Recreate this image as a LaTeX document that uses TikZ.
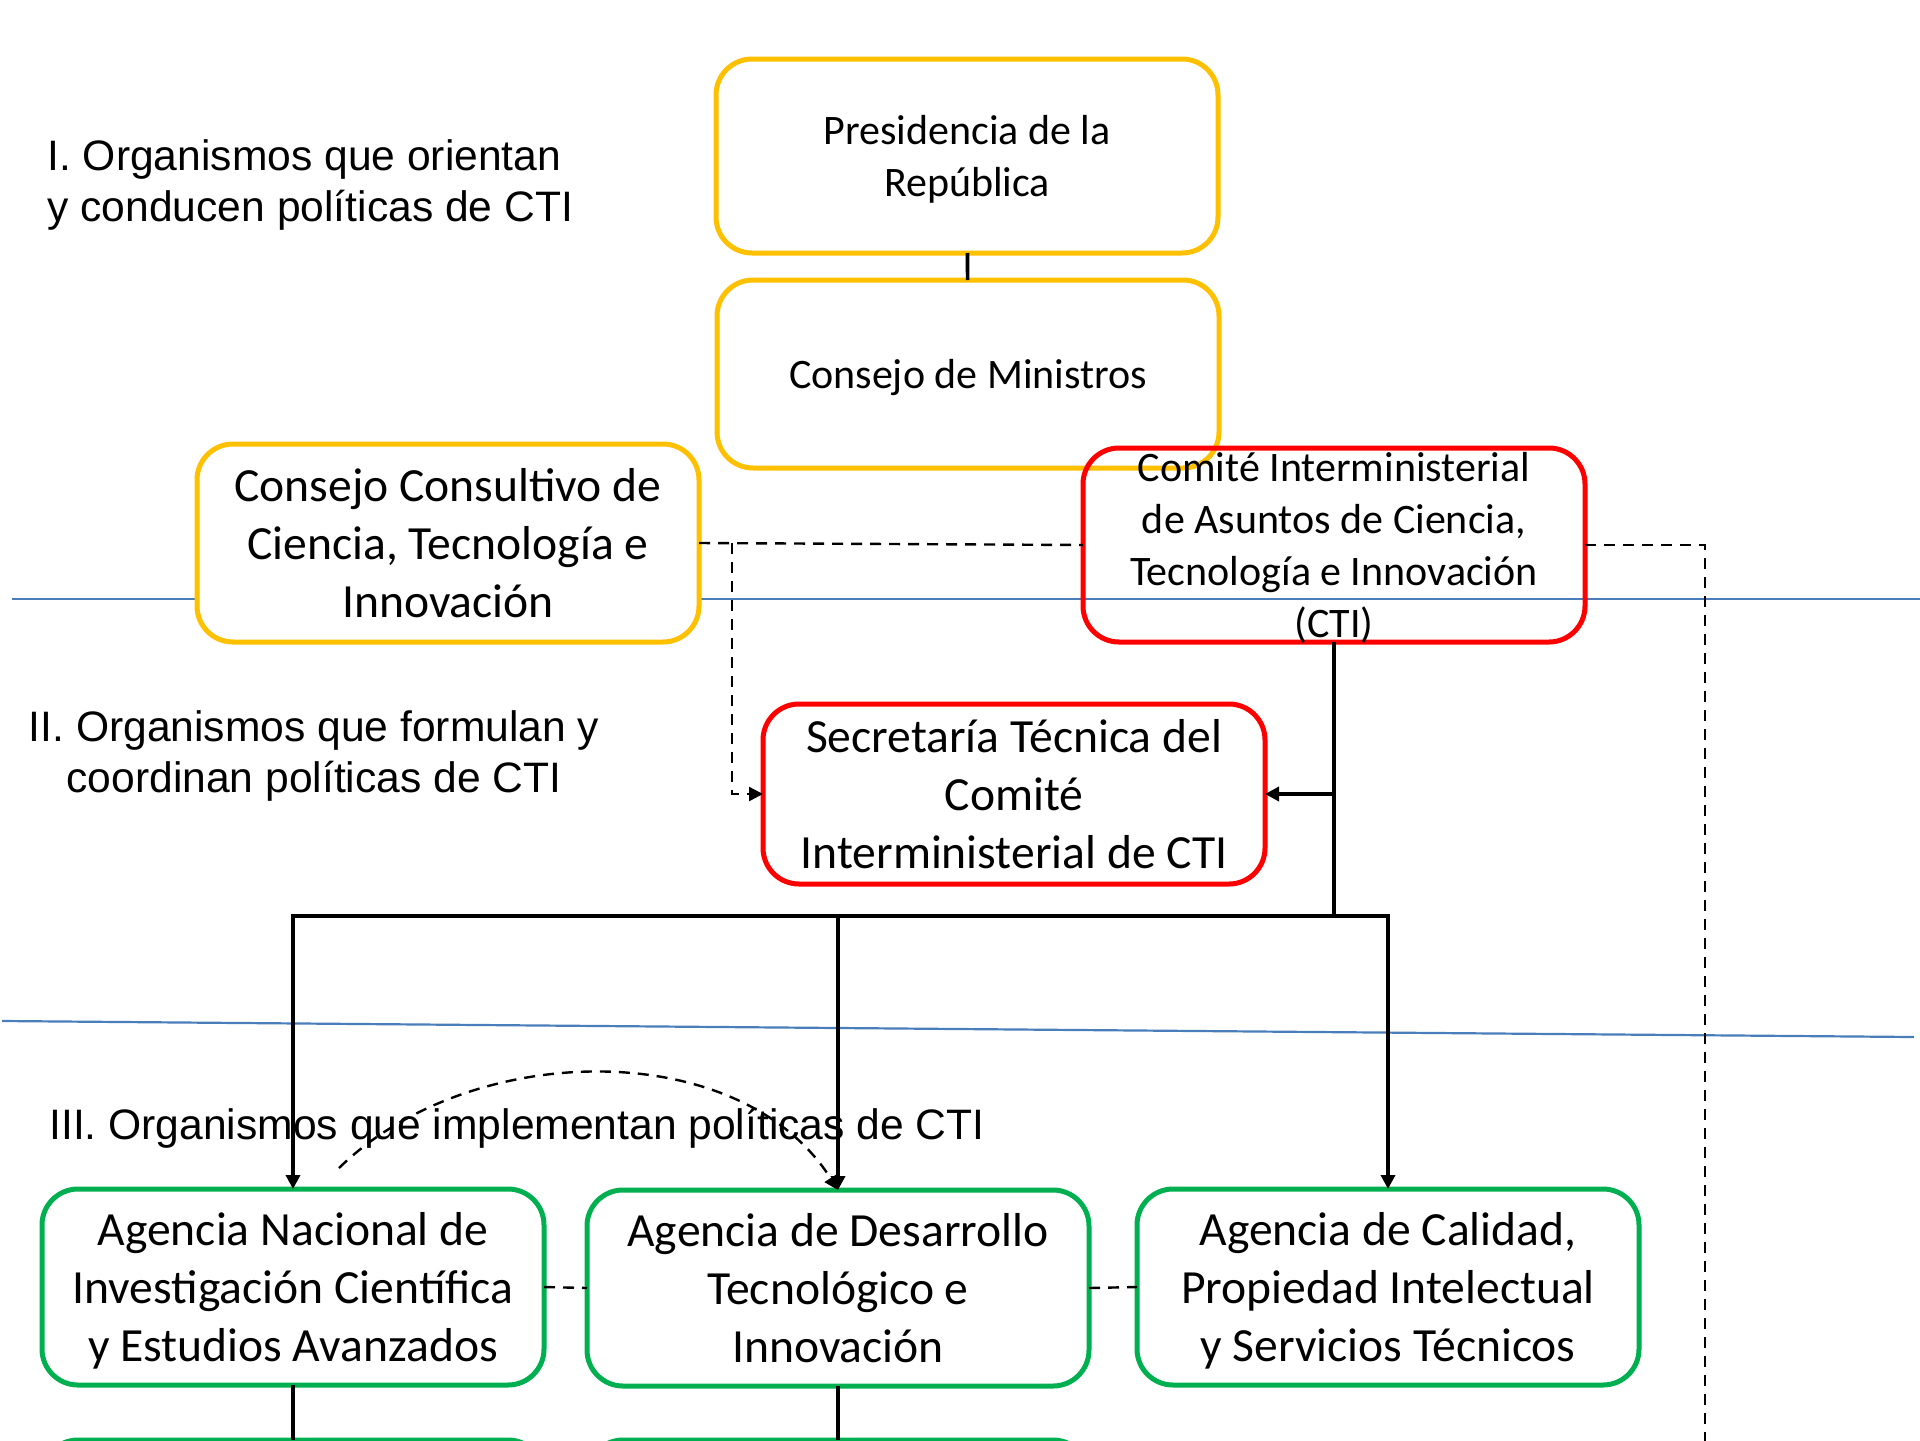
\documentclass[tikz,border=0pt]{standalone}
\usepackage{fontspec}
\setmainfont{Carlito}
\newfontfamily\arialfont{Liberation Sans}
\usetikzlibrary{arrows.meta}
\definecolor{orgyellow}{HTML}{FFC000}
\definecolor{orgred}{HTML}{FF0000}
\definecolor{orggreen}{HTML}{00B050}
\definecolor{orgblue}{HTML}{4A7EBB}
\newcommand{\boxfont}{\fontsize{23.8}{29}\selectfont}
\newcommand{\smallboxfont}{\fontsize{21}{26}\selectfont}
\newcommand{\levelfont}{\arialfont\fontsize{21.3}{25.5}\selectfont}

\begin{document}
\begin{tikzpicture}[x=0.5pt,y=-0.5pt,
    orgbox/.style={draw,rounded corners=18pt,line width=2.5pt,align=center,
      inner sep=0pt,outer sep=0pt,minimum width=251pt,fill=white,text depth=0pt},
    yellowbox/.style={orgbox,draw=orgyellow},
    redbox/.style={orgbox,draw=orgred},
    greenbox/.style={orgbox,draw=orggreen,minimum height=98pt,font=\boxfont},
    level/.style={align=left,inner sep=0pt,font=\levelfont},
    link/.style={line width=1.8pt},
    dlink/.style={line width=1.2pt,dash pattern=on 5.5pt off 4pt},
    >={Triangle[length=7pt,width=7pt]}]
  \useasboundingbox (0,0) rectangle (1920,1440);
  \clip (0,0) rectangle (1920,1440);

  \draw[orgblue,line width=1.1pt] (12,599) -- (1920,599);
  \draw[orgblue,line width=1.1pt] (2,1021) -- (1914,1037);

  \node[level,anchor=west] (LVLI) at (47,185) {I. Organismos que orientan\\y conducen políticas de CTI};
  \node[level,align=center] (LVLII) at (314,756) {II. Organismos que formulan y\\coordinan políticas de CTI};
  \node[level,anchor=west] (LVLIII) at (49,1128) {III. Organismos que implementan políticas de CTI};

  \node[yellowbox,minimum height=97pt,font=\smallboxfont] (PRES) at (967,156) {Presidencia de la\\República};
  \node[yellowbox,minimum height=94pt,font=\smallboxfont] (CMIN) at (968,374) {Consejo de Ministros};
  \node[yellowbox,minimum height=99pt,font=\boxfont] (CCONS) at (448,543) {Consejo Consultivo de\\Ciencia, Tecnología e\\Innovación};
  \node[redbox,minimum height=97pt,fill=none,font=\smallboxfont] (COMITE) at (1334,545) {Comité Interministerial\\de Asuntos de Ciencia,\\Tecnología e Innovación\\(CTI)};
  \node[redbox,minimum height=90pt,font=\boxfont] (SECR) at (1014,794) {Secretaría Técnica del\\Comité\\Interministerial de CTI};

  \node[greenbox] (ANID) at (293,1287) {Agencia Nacional de\\Investigación Científica\\y Estudios Avanzados};
  \node[greenbox] (ADTI) at (838,1288) {Agencia de Desarrollo\\Tecnológico e\\Innovación};
  \node[greenbox] (ACAL) at (1388,1287) {Agencia de Calidad,\\Propiedad Intelectual\\y Servicios Técnicos};
  \node[greenbox] (LOWA) at (293,1538) {};
  \node[greenbox] (LOWB) at (838,1538) {};

  \coordinate (SPLIT) at (732,543);
  \coordinate (HUB) at (1334,916);
  \coordinate (EDGE) at (1705,1450);
  \coordinate (ARCSTART) at (339,1168);

  \draw[link] (PRES) -- (CMIN);
  \draw[dlink] (CCONS.east) -- (COMITE.west);
  \draw[dlink,->] (SPLIT) |- (SECR.west);
  \draw[dlink] (COMITE.east) -| (EDGE);
  \draw[link] (COMITE.south) -- (HUB);
  \draw[link,->] (COMITE.south |- SECR.east) -- (SECR.east);
  \draw[link,->] (HUB) -| (ANID.north);
  \draw[link,->] (HUB) -| (ADTI.north);
  \draw[link,->] (HUB) -| (ACAL.north);
  \draw[dlink] (ANID.east) -- (ADTI.west);
  \draw[dlink] (ADTI.east) -- (ACAL.west);
  \draw[dlink,->] (ARCSTART) .. controls (470,1040) and (740,1035) .. (ADTI.north);
  \draw[link] (ANID) -- (LOWA);
  \draw[link] (ADTI) -- (LOWB);
\end{tikzpicture}
\end{document}
